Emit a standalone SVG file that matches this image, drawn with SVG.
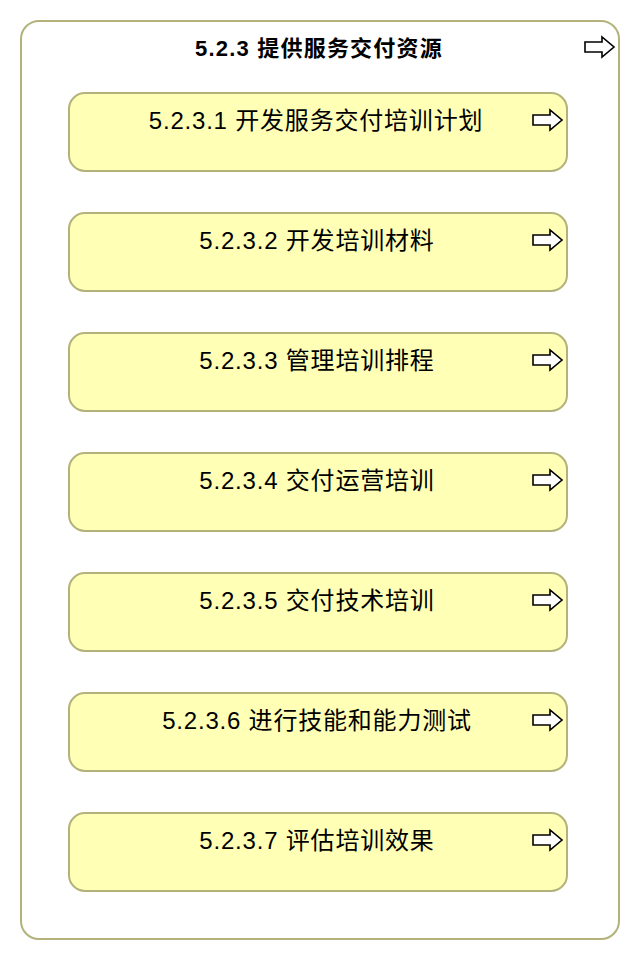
<svg xmlns="http://www.w3.org/2000/svg" width="640" height="960" viewBox="0 0 640 960">
<defs>
<style>
.outer{fill:#ffffff;stroke:#b2b27a;stroke-width:2}
.box{fill:#ffffb5;stroke:#b2b27a;stroke-width:2}
.t{font-family:"Liberation Sans","Noto Sans CJK SC",sans-serif;font-size:24px;letter-spacing:0.8px;fill:#000;text-anchor:middle}
.title{font-family:"Liberation Sans","Noto Sans CJK SC",sans-serif;font-size:22px;letter-spacing:1.2px;font-weight:bold;fill:#000;text-anchor:middle}
.arr{fill:#ffffff;stroke:#000;stroke-width:1.6;stroke-linejoin:miter}
</style>
<path id="ar" class="arr" d="M0,-5 H17 V-10 L29,0 L17,10 V5 H0 Z"/>
</defs>
<g id="container">
<rect class="outer" x="21" y="21" width="598" height="918" rx="18" ry="18"/>
<text class="title" x="319" y="56">5.2.3 提供服务交付资源</text>
<use href="#ar" x="585" y="47"/>
</g>
<g id="n1"><rect class="box" x="69" y="93" width="498" height="78" rx="16" ry="16"/><text class="t" x="316" y="129">5.2.3.1 开发服务交付培训计划</text><use href="#ar" x="533" y="120"/></g>
<g id="n2"><rect class="box" x="69" y="213" width="498" height="78" rx="16" ry="16"/><text class="t" x="317" y="249">5.2.3.2 开发培训材料</text><use href="#ar" x="533" y="240"/></g>
<g id="n3"><rect class="box" x="69" y="333" width="498" height="78" rx="16" ry="16"/><text class="t" x="317" y="369">5.2.3.3 管理培训排程</text><use href="#ar" x="533" y="360"/></g>
<g id="n4"><rect class="box" x="69" y="453" width="498" height="78" rx="16" ry="16"/><text class="t" x="317" y="489">5.2.3.4 交付运营培训</text><use href="#ar" x="533" y="480"/></g>
<g id="n5"><rect class="box" x="69" y="573" width="498" height="78" rx="16" ry="16"/><text class="t" x="317" y="609">5.2.3.5 交付技术培训</text><use href="#ar" x="533" y="600"/></g>
<g id="n6"><rect class="box" x="69" y="693" width="498" height="78" rx="16" ry="16"/><text class="t" x="317" y="729">5.2.3.6 进行技能和能力测试</text><use href="#ar" x="533" y="720"/></g>
<g id="n7"><rect class="box" x="69" y="813" width="498" height="78" rx="16" ry="16"/><text class="t" x="317" y="849">5.2.3.7 评估培训效果</text><use href="#ar" x="533" y="840"/></g>
<g id="connectors"></g>
</svg>
